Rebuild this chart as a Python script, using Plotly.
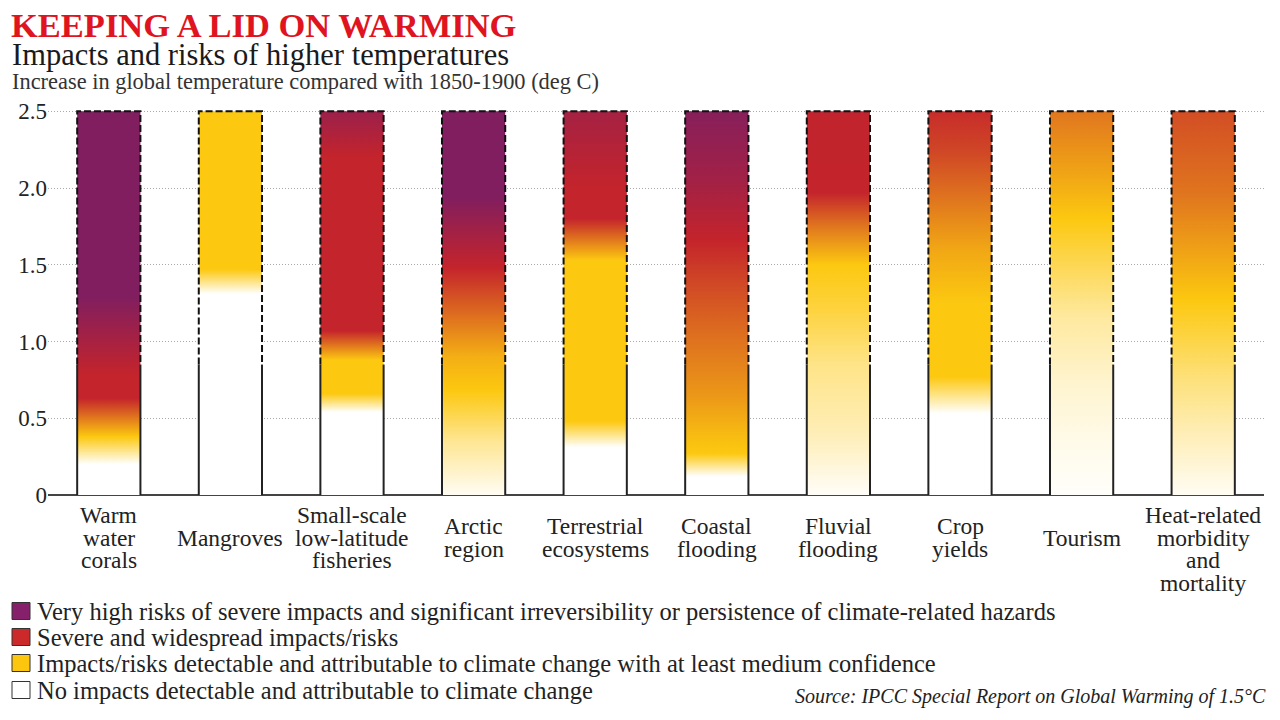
import plotly.graph_objects as go

# category labels, one list entry per printed line
categories = [
    ["Warm", "water", "corals"],
    ["Mangroves"],
    ["Small-scale", "low-latitude", "fisheries"],
    ["Arctic", "region"],
    ["Terrestrial", "ecosystems"],
    ["Coastal", "flooding"],
    ["Fluvial", "flooding"],
    ["Crop", "yields"],
    ["Tourism"],
    ["Heat-related", "morbidity", "and", "mortality"],
]

# risk level: 0 none, 1 detectable, 2 severe, 3 very high
stop_temps = [
    [0, 0.2, 0.38, 0.63, 0.78, 1.3, 2.5],
    [0, 1.31, 1.47, 2.5],
    [0, 0.54, 0.66, 0.88, 1.07, 2.2, 2.5],
    [0, 0.35, 0.68, 0.9, 1.48, 1.95, 2.5],
    [0, 0.31, 0.48, 1.53, 1.8, 2.0, 2.5],
    [0, 0.12, 0.27, 0.35, 0.65, 1.05, 1.4, 1.66, 2.05, 2.5],
    [0, 0.4, 0.85, 1.2, 1.5, 1.75, 1.97, 2.5],
    [0, 0.53, 0.77, 1.25, 1.6, 1.92, 2.25, 2.5],
    [0, 0.3, 0.73, 1.16, 1.48, 1.8, 2.07, 2.5],
    [0, 0.4, 0.75, 1.27, 1.55, 1.95, 2.5],
]
stop_levels = [
    [0, 0, 1, 2, 2, 3, 3],
    [0, 0, 1, 1],
    [0, 0, 1, 1, 2, 2, 2.6],
    [0.05, 0.45, 1, 1.15, 2, 3, 3],
    [0, 0, 1, 1, 2, 2, 2.45],
    [0, 0, 1, 1.05, 1.3, 1.55, 1.8, 2, 2.5, 2.9],
    [0.03, 0.3, 0.5, 0.8, 1, 1.5, 2, 2.05],
    [0, 0, 1, 1, 1.2, 1.5, 1.8, 1.95],
    [0.02, 0.08, 0.2, 0.4, 0.7, 1, 1.2, 1.5],
    [0.05, 0.3, 0.55, 1, 1.2, 1.5, 1.75],
]

bar_top = 2.5
observed = 0.85  # where the dashed outline begins

tick_values = [0, 0.5, 1, 1.5, 2, 2.5]
tick_labels = ["0", "0.5", "1.0", "1.5", "2.0", "2.5"]

legend_labels = [
    "Very high risks of severe impacts and significant irreversibility or persistence of climate-related hazards",
    "Severe and widespread impacts/risks",
    "Impacts/risks detectable and attributable to climate change with at least medium confidence",
    "No impacts detectable and attributable to climate change",
]
legend_colors = ["#86206a", "#cc2a2a", "#fcc60f", "#ffffff"]

LEVEL_RGB = [(255, 255, 255), (252, 200, 16), (196, 36, 43), (128, 30, 96)]
FONT = "Liberation Serif"

W, H = 1280, 720
L, T = 48, 96
PW, PH = 1216, 399
R, B = W - L - PW, H - T - PH


def px(x):
    return (x - L) / PW


def py(y):
    return 1 - (y - T) / PH


def level_color(z):
    lo = min(int(z), 2)
    f = z - lo
    a, b = LEVEL_RGB[lo], LEVEL_RGB[lo + 1]
    r, g, bl = (round(a[k] + (b[k] - a[k]) * f) for k in range(3))
    return f"rgb({r},{g},{bl})"


fig = go.Figure()
half = 0.26
for i in range(len(categories)):
    l, r = i - half, i + half
    scale = [[t / bar_top, level_color(z)] for t, z in zip(stop_temps[i], stop_levels[i])]
    fig.add_trace(go.Scatter(
        x=[l, r, r, l, l], y=[0, 0, bar_top, bar_top, 0],
        mode="lines", line=dict(width=0), fill="toself",
        fillgradient=dict(type="vertical", colorscale=scale, start=0, stop=bar_top),
        hoverinfo="skip",
    ))
    fig.add_trace(go.Scatter(
        x=[l, l, None, r, r], y=[0, observed, None, 0, observed],
        mode="lines", line=dict(color="#222", width=2), hoverinfo="skip",
    ))
    fig.add_trace(go.Scatter(
        x=[l, l, r, r], y=[observed, bar_top, bar_top, observed],
        mode="lines", line=dict(color="#111", width=2, dash="7px,3px"),
        hoverinfo="skip",
    ))

annotations = [
    dict(text="<b>KEEPING A LID ON WARMING</b>", x=px(9), y=py(25),
         font=dict(size=34.5, color="#e0141e")),
    dict(text="Impacts and risks of higher temperatures", x=px(10), y=py(55),
         font=dict(size=30.5, color="#1a1a1a")),
    dict(text="Increase in global temperature compared with 1850-1900 (deg C)",
         x=px(10), y=py(82), font=dict(size=22.4, color="#333")),
]
for a in annotations:
    a.update(xref="paper", yref="paper", xanchor="left", yanchor="middle",
             showarrow=False)
    a["font"]["family"] = FONT

for i, lines in enumerate(categories):
    start = 537.5 - 11.25 * (min(len(lines), 3) - 1)
    for k, line in enumerate(lines):
        annotations.append(dict(
            text=line, x=i, xref="x", y=py(start + 22.5 * k), yref="paper",
            xanchor="center", yanchor="middle", showarrow=False,
            font=dict(family=FONT, size=23.5, color="#222"),
        ))

shapes = []
row_centers = [611, 637, 663, 690]
for label, color, yc in zip(legend_labels, legend_colors, row_centers):
    shapes.append(dict(
        type="rect", xref="paper", yref="paper",
        x0=px(12), x1=px(30), y0=py(yc + 8.5), y1=py(yc - 8.5),
        fillcolor=color, line=dict(color="#333", width=1),
    ))
    annotations.append(dict(
        text=label, x=px(35), y=py(yc), xref="paper", yref="paper",
        xanchor="left", yanchor="middle", showarrow=False,
        font=dict(family=FONT, size=24.5, color="#222"),
    ))

annotations.append(dict(
    text="<i>Source: IPCC Special Report on Global Warming of 1.5°C</i>",
    x=px(1268), y=py(696), xref="paper", yref="paper",
    xanchor="right", yanchor="middle", showarrow=False,
    font=dict(family=FONT, size=20, color="#222"),
))

fig.update_layout(
    width=W, height=H,
    margin=dict(l=L, r=R, t=T, b=B),
    paper_bgcolor="white", plot_bgcolor="white",
    showlegend=False,
    annotations=annotations, shapes=shapes,
    xaxis=dict(range=[-0.5, 9.5], showgrid=False, showticklabels=False,
               zeroline=False, showline=False, fixedrange=True),
    yaxis=dict(range=[0, 2.6], tickvals=tick_values, ticktext=tick_labels,
               showgrid=True, gridcolor="#aaa", gridwidth=1, griddash="1px,2px",
               zeroline=True, zerolinecolor="#444", zerolinewidth=2,
               showline=False, ticks="",
               tickfont=dict(family=FONT, size=23, color="#222"),
               fixedrange=True),
)

# drop the browser's default body margin so the figure sits at the corner
fig.write_html("out.html", config={"displayModeBar": False},
               post_script="document.body.style.margin = '0';")
